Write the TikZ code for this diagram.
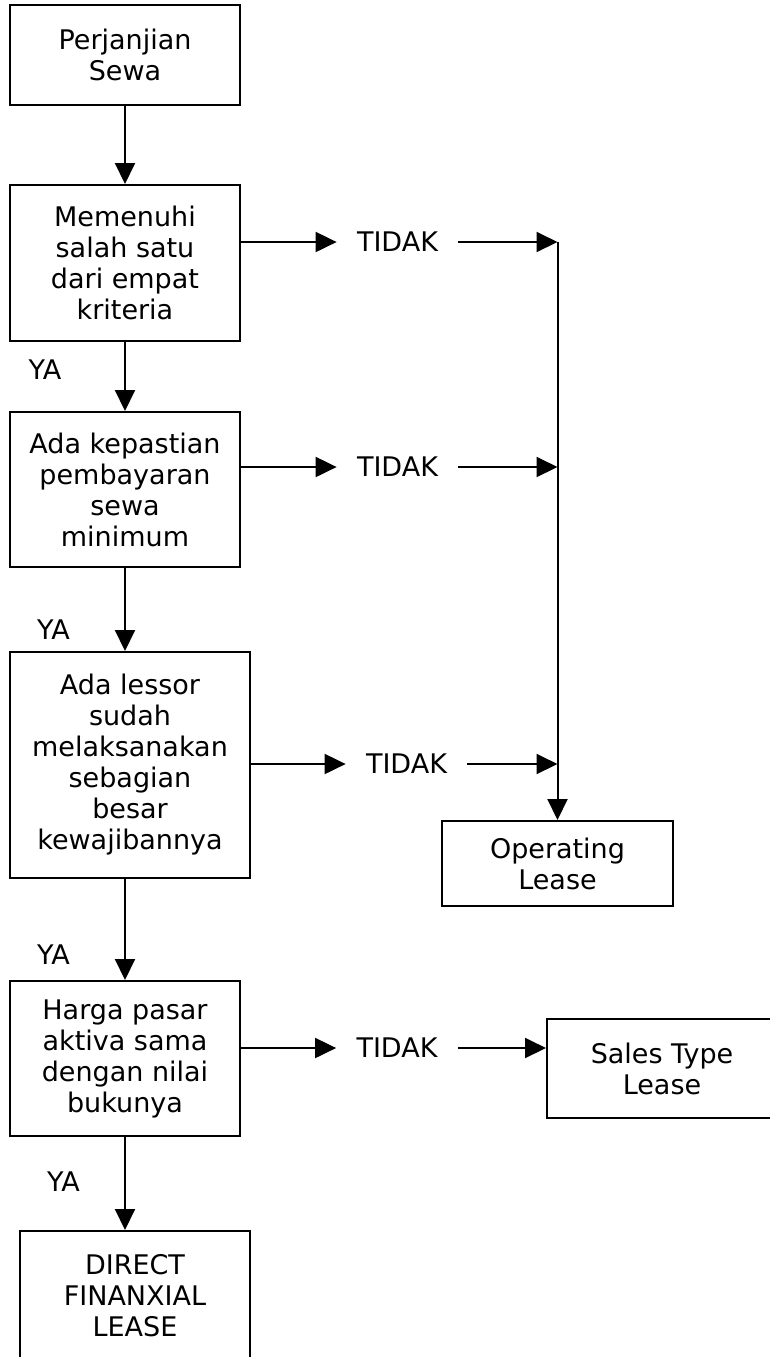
\documentclass[tikz,border=0pt]{standalone}
\usepackage{fontspec}
\setmainfont{DejaVu Sans}
\usetikzlibrary{arrows.meta}
\tikzset{
  lsarr/.style={-{Triangle[length=10.5pt,width=10pt]},line width=1pt},
  lsbox/.style={draw=black,line width=1pt,align=center,inner sep=0pt,
                font=\fontsize{13.5}{15.5}\selectfont},
  lslabel/.style={inner xsep=10pt,inner ysep=0pt,font=\fontsize{13.5}{15.5}\selectfont}
}
\begin{document}
\begin{tikzpicture}[x=0.5pt,y=-0.5pt]
\clip (0,0) rectangle (770,1357);
% kolom kiri
\node[lsbox,minimum width=115pt,minimum height=50pt] (sewa) at (125,55) {Perjanjian\\Sewa};
\node[lsbox,minimum width=115pt,minimum height=78pt] (krit) at (125,263) {Memenuhi\\salah satu\\dari empat\\kriteria};
\node[lsbox,minimum width=115pt,minimum height=77.5pt] (kepa) at (125,489.5) {Ada kepastian\\pembayaran\\sewa\\minimum};
\node[lsbox,minimum width=120pt,minimum height=113pt] (less) at (130,765) {Ada lessor\\sudah\\melaksanakan\\sebagian\\besar\\kewajibannya};
\node[lsbox,minimum width=115pt,minimum height=77.5pt] (harga) at (125,1058.5) {Harga pasar\\aktiva sama\\dengan nilai\\bukunya};
\node[lsbox,minimum width=115pt,minimum height=80pt] (dfl) at (135,1311) {DIRECT\\FINANXIAL\\LEASE\\\mbox{}};
% kolom kanan
\node[lsbox,minimum width=115.5pt,minimum height=42.5pt] (op) at (557.5,863.5) {Operating\\Lease};
\node[lsbox,minimum width=115pt,minimum height=49.5pt] (sales) at (662,1068.5) {Sales Type\\Lease};
% label
\node[lslabel] (t1) at (397.5,242) {TIDAK};
\node[lslabel] (t2) at (397.5,467) {TIDAK};
\node[lslabel] (t3) at (406.5,764) {TIDAK};
\node[lslabel] (t4) at (397,1048) {TIDAK};
\node[lslabel] (ya1) at (45,370) {YA};
\node[lslabel] (ya2) at (53.5,630) {YA};
\node[lslabel] (ya3) at (53.5,955) {YA};
\node[lslabel] (ya4) at (63.5,1182) {YA};
\coordinate (j1) at (op.north |- t1);
\coordinate (j2) at (op.north |- t2);
\coordinate (j3) at (op.north |- t3);

\draw[lsarr] (sewa.south) -- (krit.north);
\draw[lsarr] (krit.south) -- (kepa.north);
\draw[lsarr] (kepa.south) -- (kepa.south |- less.north);
\draw[lsarr] (less.south -| harga.north) -- (harga.north);
\draw[lsarr] (harga.south) -- (harga.south |- dfl.north);

\draw[lsarr] (t1 -| krit.east) -- (t1.west);
\draw[lsarr] (t2 -| kepa.east) -- (t2.west);
\draw[lsarr] (t3 -| less.east) -- (t3.west);
\draw[lsarr] (t4 -| harga.east) -- (t4.west);
\draw[lsarr] (t1.east) -- (j1);
\draw[lsarr] (t2.east) -- (j2);
\draw[lsarr] (t3.east) -- (j3);
\draw[lsarr] (j1) -- (op.north);
\draw[lsarr] (t4.east) -- (t4.east -| sales.west);
\end{tikzpicture}
\end{document}
